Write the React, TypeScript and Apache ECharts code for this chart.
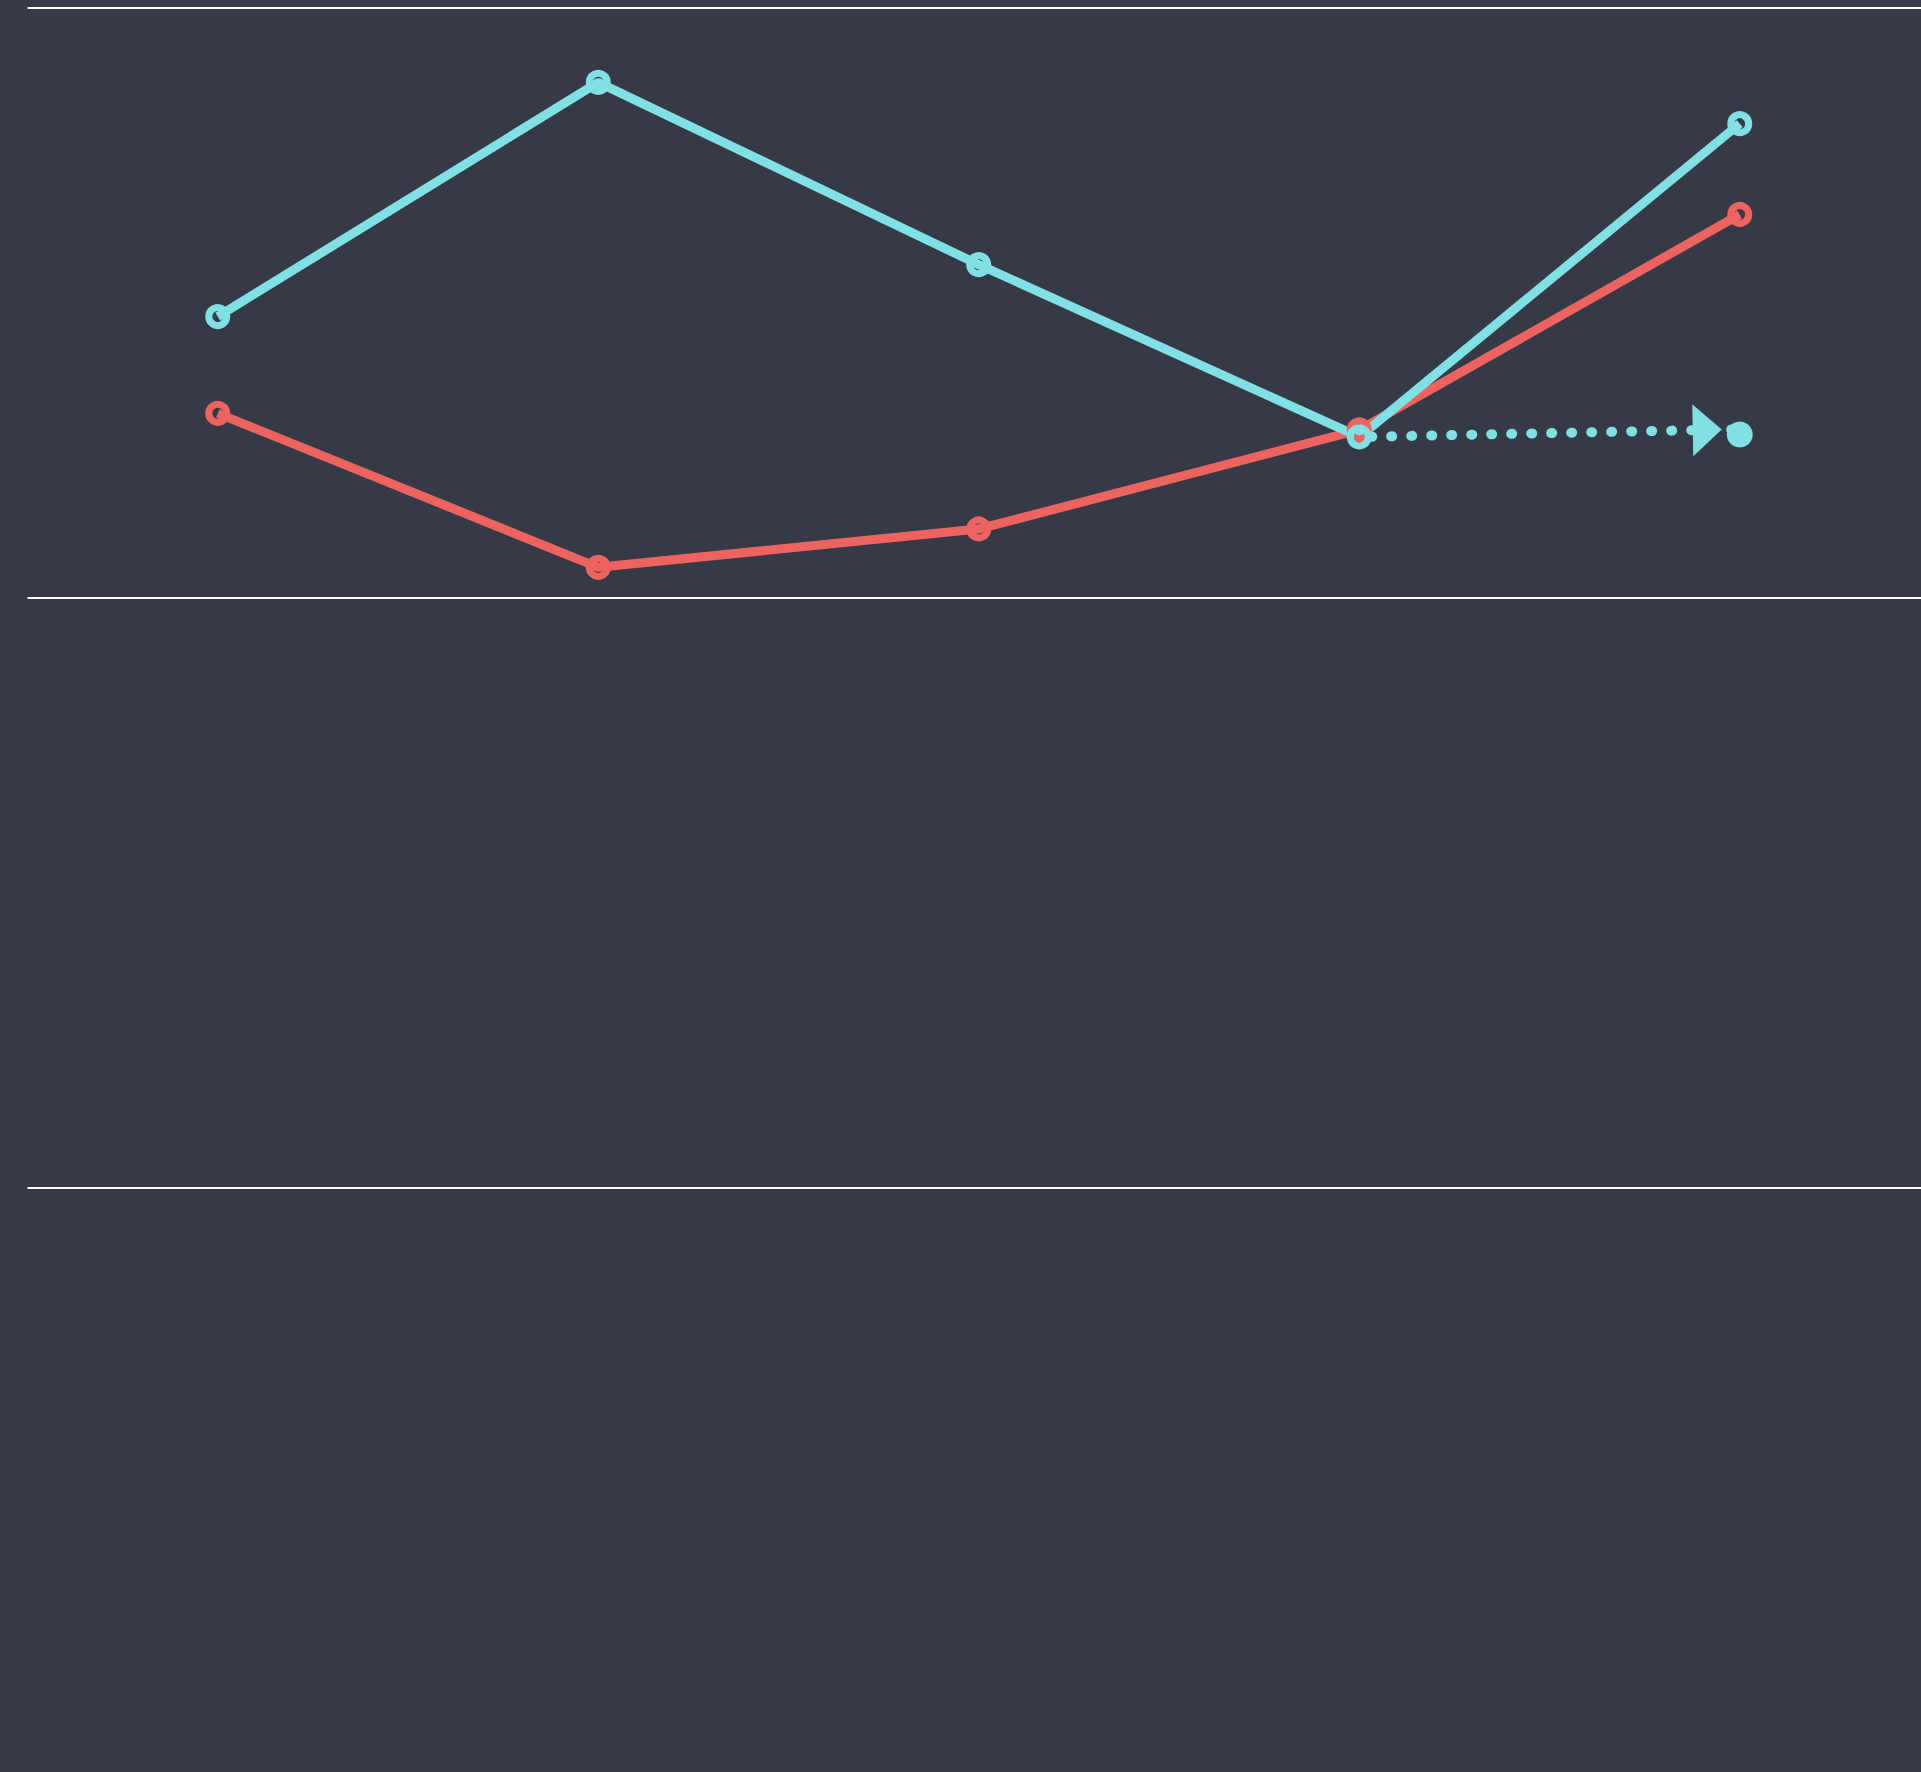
import React, { useEffect, useRef } from 'react';
import * as echarts from 'echarts';

const categories = ['Mon', 'Tue', 'Wed', 'Thu', 'Fri'];
const redValues = [231.3, 205.2, 211.7, 228.5, 265.0];
const cyanValues = [247.7, 287.4, 256.5, 227.3, 280.4];
const guideFrom = [3, 227.3];
const guideTo = [4, 228.6];
const guideDot = [4, 227.7];
const yMin = 0;
const yMax = 300;
const yInterval = 100;

const BG = '#363a46';
const RED = '#ec6360';
const CYAN = '#80e0e4';

export default function App() {
  const ref = useRef<HTMLDivElement>(null);
  useEffect(() => {
    document.body.style.margin = '0';
    document.body.style.background = BG;
    document.body.style.overflow = 'hidden';
    const chart = echarts.init(ref.current!, null, { renderer: 'svg' });
    const lineSeries = (name: string, data: number[], color: string) => ({
      name,
      type: 'line',
      data,
      symbol: 'circle',
      symbolSize: 18,
      showAllSymbol: true,
      lineStyle: { color, width: 9 },
      itemStyle: { color: 'rgba(0,0,0,0)', borderColor: color, borderWidth: 7 },
      emphasis: { disabled: true },
      silent: true,
    });
    const red: any = lineSeries('red', redValues, RED);
    const cyan: any = lineSeries('cyan', cyanValues, CYAN);
    cyan.markLine = {
      silent: true,
      animation: false,
      symbol: ['none', 'triangle'],
      label: { show: false },
      emphasis: { disabled: true },
      lineStyle: { color: CYAN, width: 10, type: [1, 19], cap: 'round', dashOffset: 8.3, opacity: 1 },
      data: [
        [
          { coord: guideFrom, symbol: 'none' },
          { coord: guideTo, symbol: 'triangle', symbolSize: [52, 29], symbolOffset: [0, 32.5] },
        ],
      ],
    };
    cyan.markPoint = {
      silent: true,
      animation: false,
      symbol: 'circle',
      symbolSize: 26,
      itemStyle: { color: CYAN },
      label: { show: false },
      data: [{ coord: guideDot }],
    };
    chart.setOption({
      animation: false,
      backgroundColor: BG,
      grid: {
        left: 27.5,
        top: 8,
        width: 1902.5,
        height: 1770,
        containLabel: false,
        outerBoundsMode: 'none',
      },
      xAxis: {
        type: 'category',
        data: categories,
        boundaryGap: true,
        axisLine: { show: false },
        axisTick: { show: false },
        axisLabel: { show: false },
        splitLine: { show: false },
      },
      yAxis: {
        type: 'value',
        min: yMin,
        max: yMax,
        interval: yInterval,
        axisLine: { show: false },
        axisTick: { show: false },
        axisLabel: { show: false },
        splitLine: { show: true, lineStyle: { color: '#ffffff', width: 2 } },
      },
      series: [red, cyan],
    });
    return () => chart.dispose();
  }, []);
  return (
    <div
      ref={ref}
      style={{ position: 'absolute', left: 0, top: 0, width: 1921, height: 1772, background: BG }}
    />
  );
}
